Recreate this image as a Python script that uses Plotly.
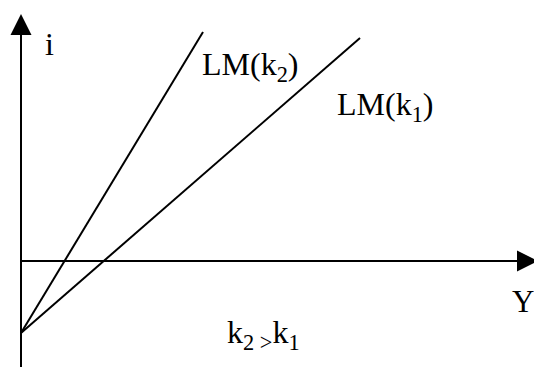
import plotly.graph_objects as go

# Schematic LM curves (i vs Y), arbitrary units
Y_k2 = [0, 182]
i_k2 = [-72, 229]
Y_k1 = [0, 339]
i_k1 = [-72, 223]

# axis extents (arbitrary units)
y_axis_bottom = -106
y_axis_top = 247
x_axis_right = 513
head_len = 21
head_half = 10.5

labels = ["i", "LM(k<sub>2</sub>)", "LM(k<sub>1</sub>)", "Y", "k<sub>2 &gt;</sub>k<sub>1</sub>"]
label_x = [22, 179, 314, 489, 204]
label_y = [217, 195, 155, -40, -73]
label_size = [32, 32, 32, 31, 32]

fig = go.Figure()
black = "#000000"
lw = 2

fig.add_trace(go.Scatter(x=Y_k2, y=i_k2, mode="lines", line=dict(color=black, width=lw), showlegend=False, hoverinfo="skip"))
fig.add_trace(go.Scatter(x=Y_k1, y=i_k1, mode="lines", line=dict(color=black, width=lw), showlegend=False, hoverinfo="skip"))

shapes = []
# vertical axis line
vb = y_axis_top - head_len
shapes.append(dict(type="line", xref="x", yref="y", x0=0, x1=0, y0=y_axis_bottom, y1=vb,
                   line=dict(color=black, width=lw)))
# vertical arrow head
shapes.append(dict(type="path", xref="x", yref="y",
                   path=f"M {-head_half},{vb} L {head_half},{vb} L 0,{y_axis_top} Z",
                   fillcolor=black, line=dict(color=black, width=0)))
# horizontal axis line
hb = x_axis_right - head_len + 4
shapes.append(dict(type="line", xref="x", yref="y", x0=0, x1=hb, y0=0, y1=0,
                   line=dict(color=black, width=lw)))
shapes.append(dict(type="path", xref="x", yref="y",
                   path=f"M {hb},{-head_half} L {hb},{head_half} L {x_axis_right + 4},0 Z",
                   fillcolor=black, line=dict(color=black, width=0)))

annotations = []
for t, x, y, s in zip(labels, label_x, label_y, label_size):
    annotations.append(dict(text=t, x=x, y=y, xref="x", yref="y", xanchor="left", yanchor="middle",
                            showarrow=False, font=dict(family="Liberation Serif", size=s, color=black)))

fig.update_layout(
    width=534, height=367,
    margin=dict(l=0, r=0, t=0, b=0),
    paper_bgcolor="white", plot_bgcolor="white",
    xaxis=dict(range=[-21, 513], visible=False, fixedrange=True),
    yaxis=dict(range=[-106, 261], visible=False, fixedrange=True),
    shapes=shapes, annotations=annotations,
)

fig.write_html("out.html", config={"displayModeBar": False},
               post_script="document.body.style.margin='0px';document.body.style.overflow='hidden';")
